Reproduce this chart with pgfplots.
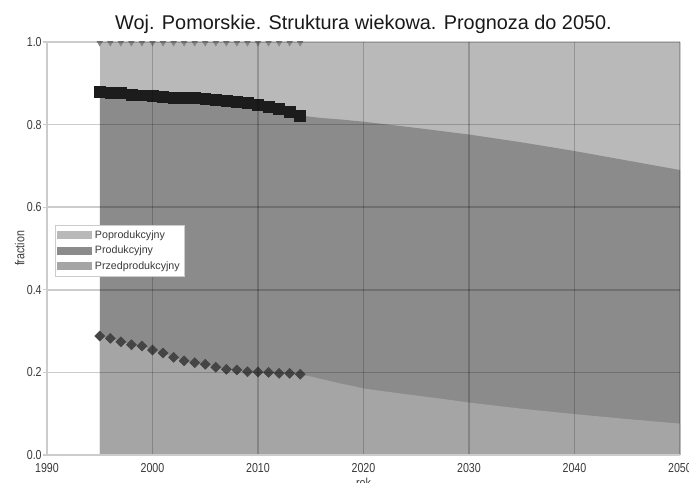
\documentclass[border=0pt]{standalone}
\usepackage{fontspec}
\setmainfont{Liberation Sans}
\newfontfamily\narrowfont[FakeStretch=0.82]{Liberation Sans}
\usepackage{pgfplots}
\pgfplotsset{compat=1.18}
\definecolor{cPop}{HTML}{B9B9B9}
\definecolor{cProd}{HTML}{8B8B8B}
\definecolor{cPrzed}{HTML}{A5A5A5}
\definecolor{cAxis}{HTML}{CCCCCC}
\definecolor{cText}{HTML}{3A3A3A}
\definecolor{cTri}{HTML}{868686}
\definecolor{cSq}{HTML}{1C1C1C}
\definecolor{cDia}{HTML}{454545}

\begin{document}
\begin{tikzpicture}
\begin{axis}[
  at={(35.25pt,20.25pt)}, anchor=south west,
  scale only axis, width=474.75pt, height=309.75pt,
  xmin=1990, xmax=2050, ymin=0, ymax=1,
  xtick={1990,2000,2010,2020,2030,2040,2050},
  ytick={0,0.2,0.4,0.6,0.8,1.0},
  axis on top,
  clip marker paths=true,
  axis x line*=bottom, axis y line*=left,
  axis line style={draw=cAxis, line width=0.8pt, -},
  grid=major,
  major grid style={draw=black, opacity=0.2, line width=1.1pt},
  ytick align=outside, xtick align=inside,
  major tick length=3pt,
  ytick style={draw=cAxis, line width=0.8pt},
  xtick style={draw=none},
  ticklabel style={font=\narrowfont\fontsize{9.75}{11}\selectfont, text=cText},
  xticklabel style={anchor=north, inner sep=0pt, yshift=-6.3pt, /pgf/number format/1000 sep={}},
  yticklabel style={anchor=east, inner sep=0pt, xshift=-0.8pt, /pgf/number format/fixed, /pgf/number format/fixed zerofill, /pgf/number format/precision=1},
  /pgf/number format/assume math mode=true,
  title={Woj. Pomorskie. Struktura wiekowa. Prognoza do 2050.},
  title style={at={(axis description cs:0.5,1)}, anchor=base, inner sep=0pt, yshift=3.6pt, font=\fontsize{14.9}{17}\selectfont, text=black!90},
  xlabel={rok},
  xlabel style={at={(axis description cs:0.5,0)}, anchor=north, inner sep=0pt, yshift=-17.25pt, font=\narrowfont\fontsize{9.75}{11}\selectfont, text=cText},
  ylabel={fraction},
  ylabel style={at={(axis description cs:-0.0432,0.5)}, anchor=center, inner sep=0pt, font=\narrowfont\fontsize{9.75}{11}\selectfont, text=cText},
  legend image code/.code={\path[#1] (0pt,-3.1pt) rectangle (26pt,3.1pt);},
  legend cell align=left,
  legend style={at={(axis description cs:0.0126,0.557)}, anchor=north west,
    draw=cAxis, fill=white, line width=0.6pt,
    font=\fontsize{8}{9}\selectfont, text=cText,
    inner xsep=1.5pt, inner ysep=1.5pt, row sep=0pt,
    nodes={inner sep=2.2pt}},
]
% Poprodukcyjny (top, total)
\addplot[fill=cPop, draw=none] coordinates {(1995,1) (2050,1)} \closedcycle;
\addlegendentry{Poprodukcyjny}
% Produkcyjny (cumulative upper edge)
\addplot[fill=cProd, draw=none] coordinates {
(1995,0.880) (1996,0.878) (1997,0.876) (1998,0.873) (1999,0.871)
(2000,0.869) (2001,0.867) (2002,0.866) (2003,0.865) (2004,0.864)
(2005,0.862) (2006,0.860) (2007,0.858) (2008,0.856) (2009,0.853)
(2010,0.849) (2011,0.844) (2012,0.839) (2013,0.831) (2014,0.822)
(2015,0.819) (2016,0.816) (2018,0.812) (2020,0.807) (2025,0.792)
(2030,0.776) (2035,0.757) (2040,0.736) (2045,0.713) (2050,0.690)
} \closedcycle;
\addlegendentry{Produkcyjny}
% Przedprodukcyjny
\addplot[fill=cPrzed, draw=none] coordinates {
(1995,0.288) (1996,0.2825) (1997,0.274) (1998,0.267) (1999,0.264)
(2000,0.254) (2001,0.247) (2002,0.2365) (2003,0.228) (2004,0.2235)
(2005,0.2195) (2006,0.2125) (2007,0.2075) (2008,0.206) (2009,0.2017)
(2010,0.201) (2011,0.200) (2012,0.1977) (2013,0.1977) (2014,0.1954)
(2015,0.190) (2016,0.184) (2017,0.178) (2018,0.172) (2019,0.167)
(2020,0.161) (2022,0.154) (2025,0.144) (2028,0.134) (2030,0.127)
(2035,0.112) (2040,0.099) (2045,0.087) (2050,0.076)
} \closedcycle;
\addlegendentry{Przedprodukcyjny}
% markers
\addplot[forget plot, only marks, mark=triangle*, mark size=3pt, color=cTri,
  every mark/.append style={rotate=180}] coordinates {
(1995,1) (1996,1) (1997,1) (1998,1) (1999,1) (2000,1) (2001,1) (2002,1) (2003,1) (2004,1)
(2005,1) (2006,1) (2007,1) (2008,1) (2009,1) (2010,1) (2011,1) (2012,1) (2013,1) (2014,1)
};
\addplot[forget plot, only marks, mark=square*, mark size=4.1pt, color=cSq] coordinates {
(1995,0.880) (1996,0.878) (1997,0.876) (1998,0.873) (1999,0.871)
(2000,0.869) (2001,0.867) (2002,0.866) (2003,0.865) (2004,0.864)
(2005,0.862) (2006,0.860) (2007,0.858) (2008,0.856) (2009,0.853)
(2010,0.849) (2011,0.844) (2012,0.839) (2013,0.831) (2014,0.822)
};
\addplot[forget plot, only marks, mark=square*, mark size=2.65pt, color=cDia,
  every mark/.append style={rotate=45}] coordinates {
(1995,0.288) (1996,0.2825) (1997,0.274) (1998,0.267) (1999,0.264)
(2000,0.254) (2001,0.247) (2002,0.2365) (2003,0.228) (2004,0.2235)
(2005,0.2195) (2006,0.2125) (2007,0.2075) (2008,0.206) (2009,0.2017)
(2010,0.201) (2011,0.200) (2012,0.1977) (2013,0.1977) (2014,0.1954)
};
\end{axis}
\pgfresetboundingbox
\path (0pt,0pt) rectangle (516.75pt,361.5pt);
\end{tikzpicture}
\end{document}
